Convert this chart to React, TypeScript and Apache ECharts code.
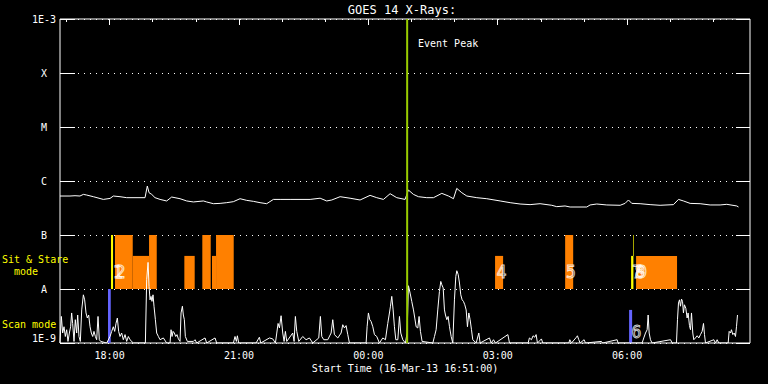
import React, { useEffect, useRef } from "react";
import * as echarts from "echarts";

// Time values are minutes after 16:00 on 16-Mar-13
const START_MIN = 51; // 16:51
const END_MIN = 1011; // 08:51 next day
const BASE_HOUR = 16;

const labelTicks = [120, 300, 480, 660, 840]; // 18:00 21:00 00:00 03:00 06:00
const hourTicks = [60, 180, 240, 360, 420, 540, 600, 720, 780, 900, 960];

const yTickExps = [-9, -8, -7, -6, -5, -4, -3];
const yTickNames = ["1E-9", "A", "B", "C", "M", "X", "1E-3"];

// GOES long channel (upper curve)
const longT = [
  51, 64.9, 71.9, 78.8, 83.5, 88.1, 97.4, 111.3, 120.6, 125.2, 134.5, 143.8, 169.3, 172.5, 174.9, 178.6,
  183.2, 190.2, 199.4, 206.4, 218, 227.3, 236.6, 250.5, 255.1, 264.4, 273.7, 283, 292.2, 301.5, 310.8,
  320.1, 329.3, 338.6, 347.9, 357.2, 371.1, 399, 412.9, 422.1, 429.1, 440.7, 454.6, 468.5, 482.4, 491.7,
  501, 510.3, 519.5, 531.1, 535.8, 542.7, 549.7, 561.3, 570.6, 582.2, 591.5, 598.4, 603, 610, 617, 630.9,
  644.8, 663.4, 677.3, 691.1, 705, 718.9, 735.2, 742.1, 753.7, 760.7, 783.9, 788.5, 797.8, 811.7, 830.3,
  837.2, 841.9, 846.5, 858.1, 872, 885.9, 904.5, 911.5, 918.4, 927.7, 941.6, 955.5, 969.4, 978.7, 992.6, 995,
];
const longF = [
  5.27e-7, 5.27e-7, 5.34e-7, 5.27e-7, 5.65e-7, 5.5e-7, 5.12e-7, 4.56e-7, 4.76e-7, 5.27e-7, 5.12e-7, 4.91e-7,
  4.91e-7, 8.07e-7, 6.07e-7, 5.65e-7, 4.91e-7, 4.56e-7, 4.27e-7, 5.05e-7, 4.7e-7, 4.27e-7, 4.09e-7, 4.27e-7,
  4.09e-7, 3.8e-7, 3.85e-7, 3.97e-7, 4.14e-7, 4.7e-7, 4.38e-7, 4.2e-7, 3.97e-7, 3.8e-7, 4.56e-7, 4.56e-7,
  4.56e-7, 4.56e-7, 4.8e-7, 4.27e-7, 4.45e-7, 5.12e-7, 4.8e-7, 4.45e-7, 5.42e-7, 4.91e-7, 4.56e-7, 5.82e-7,
  4.91e-7, 4.56e-7, 6.8e-7, 5.65e-7, 5.12e-7, 4.91e-7, 4.91e-7, 5.9e-7, 5.27e-7, 4.7e-7, 7.3e-7, 6.07e-7,
  5.27e-7, 4.91e-7, 4.7e-7, 4.27e-7, 3.97e-7, 3.75e-7, 3.65e-7, 3.8e-7, 3.55e-7, 3.35e-7, 3.45e-7, 3.3e-7,
  3.3e-7, 3.6e-7, 3.75e-7, 3.6e-7, 3.55e-7, 3.85e-7, 4.45e-7, 3.85e-7, 3.8e-7, 3.65e-7, 3.55e-7, 3.65e-7,
  4.56e-7, 4.27e-7, 3.85e-7, 3.8e-7, 3.6e-7, 3.6e-7, 3.7e-7, 3.45e-7, 3.3e-7,
];

// GOES short channel (lower, spiky curve)
const shortT = [
  51, 52.9, 54.7, 56.6, 58.4, 60.3, 62.1, 64, 65.8, 67.2, 68.6, 70.5, 72.3, 74.2, 75.6, 77.4, 79.3, 81.2,
  83.5, 85.3, 87.2, 89, 90.9, 92.8, 94.6, 96.5, 98.3, 100.2, 102, 103.9, 105.7, 107.6, 116, 120.6, 122.9,
  125.2, 127.1, 128.9, 130.8, 132.6, 134.5, 136.8, 139.1, 141.5, 143.8, 146.1, 148.4, 153, 169.8, 171.6,
  173.5, 174.9, 176.3, 177.6, 179, 180.4, 181.8, 183.7, 185.5, 187.9, 190.2, 194.8, 199.4, 204.1, 205.5,
  206.9, 208.3, 210.1, 212, 213.8, 215.7, 218, 219.4, 221.3, 222.6, 224, 225.4, 228.2, 236.6, 238.9, 241.2,
  252.8, 255.1, 266.7, 269, 292.2, 294.5, 296.4, 297.8, 299.6, 323.8, 328.4, 330.3, 342.4, 347, 350.7,
  352.6, 354.4, 356.3, 358.6, 360.9, 362.8, 364.6, 366.5, 374.8, 376.7, 378.5, 380.4, 383.2, 388.7, 393.4,
  398, 402.7, 411, 413.3, 415.2, 418, 423.5, 428.2, 430.5, 432.8, 437.5, 442.1, 444.4, 446.7, 449, 451.4,
  453.7, 476.9, 478.3, 480.1, 482, 483.8, 486.2, 488.5, 491.7, 495.4, 500.1, 503.8, 507, 508.9, 510.8,
  512.6, 514.5, 516.3, 518.2, 521, 523.3, 525.1, 527.9, 531.6, 533.9, 535.8, 538.1, 540.4, 542.8, 544.6,
  546.5, 548.8, 550.6, 552.5, 554.8, 569.7, 572, 574.3, 576.6, 578.9, 580.8, 582.2, 584.1, 585.9, 587.3,
  589.2, 591, 592.9, 595.2, 597.5, 599.8, 601.7, 603.1, 605, 606.8, 608.6, 610.5, 612.3, 614.2, 616.1,
  617.9, 619.8, 621.6, 623.5, 625.3, 630, 633.7, 635.5, 648.5, 650.9, 654.1, 656.9, 674.1, 676.4, 702.3,
  704.1, 706.9, 709.2, 711.5, 713.4, 715.3, 720.8, 722.7, 758.9, 760.3, 762.6, 769.5, 770.9, 772.8, 774.6,
  780.2, 782.1, 804.3, 806, 826.1, 827.5, 860.9, 863.2, 865.6, 867.9, 869.3, 870.7, 872.5, 874.8, 900.4,
  902.7, 908.7, 910.1, 911.5, 912.9, 914.3, 915.7, 917.1, 918.4, 919.8, 921.7, 923.5, 924.9, 926.8, 928.2,
  929.6, 931.4, 932.8, 935.1, 937.5, 939.8, 942.1, 944.4, 946.3, 947.7, 949.1, 960.7, 963, 965.3, 967.6,
  980.6, 982, 983.9, 985.2, 987.1, 989, 990.8, 992.2, 993.6, 994.5,
];
const shortF = [
  1e-9, 3.1e-9, 1.53e-9, 2.0e-9, 1.32e-9, 1.76e-9, 1.07e-9, 1.53e-9, 2.0e-9, 3.6e-9, 2.3e-9, 1.07e-9, 2.7e-9,
  1.53e-9, 3.3e-9, 1.32e-9, 1.07e-9, 4.1e-9, 7.8e-9, 6.3e-9, 3.6e-9, 2.9e-9, 3.3e-9, 2.0e-9, 1.53e-9,
  1.32e-9, 1.64e-9, 1.32e-9, 1.15e-9, 3.1e-9, 1.15e-9, 1.07e-9, 1e-9, 1.32e-9, 1.64e-9, 2.0e-9, 1.64e-9,
  2.3e-9, 2.9e-9, 1.64e-9, 1.32e-9, 1.53e-9, 1.15e-9, 1.43e-9, 1.07e-9, 1.32e-9, 1.15e-9, 1e-9, 1e-9,
  1.49e-8, 3.11e-8, 1.12e-8, 6.3e-9, 7.3e-9, 5.9e-9, 7.8e-9, 4.8e-9, 2.7e-9, 1.53e-9, 1.32e-9, 1.15e-9,
  1.24e-9, 1e-9, 1e-9, 1.76e-9, 1.32e-9, 1.64e-9, 1.53e-9, 1.32e-9, 1.43e-9, 1.19e-9, 1.07e-9, 3.6e-9,
  4.8e-9, 3.3e-9, 2.7e-9, 1.32e-9, 1.07e-9, 1.07e-9, 1.15e-9, 1e-9, 1.24e-9, 1e-9, 1.24e-9, 1e-9, 1e-9,
  1.32e-9, 1.07e-9, 1.36e-9, 1e-9, 1e-9, 1.28e-9, 1e-9, 1.24e-9, 1.19e-9, 1e-9, 1.53e-9, 2.3e-9, 1.9e-9,
  3.2e-9, 1.53e-9, 1.07e-9, 1.64e-9, 1.07e-9, 1.53e-9, 1.07e-9, 3.1e-9, 1.64e-9, 1.07e-9, 1.32e-9, 1.15e-9,
  1.24e-9, 1e-9, 1.24e-9, 3.1e-9, 1.32e-9, 1.15e-9, 1.15e-9, 1.53e-9, 2.7e-9, 1.43e-9, 1.24e-9, 1.53e-9,
  2.18e-9, 1.9e-9, 2.1e-9, 1.43e-9, 1e-9, 1e-9, 2.0e-9, 3.6e-9, 2.7e-9, 2.51e-9, 2.0e-9, 1.43e-9, 1.32e-9,
  1e-9, 1.24e-9, 1.15e-9, 2.3e-9, 3.3e-9, 4.8e-9, 7.3e-9, 4.1e-9, 2.0e-9, 1.15e-9, 1.15e-9, 3.1e-9,
  1.53e-9, 1.15e-9, 1e-9, 1.53e-9, 1.15e-8, 8.4e-9, 5.9e-9, 4.1e-9, 2.9e-9, 2.0e-9, 1.9e-9, 3.1e-9,
  1.64e-9, 1.07e-9, 1e-9, 1.32e-9, 1.76e-9, 4.1e-9, 9.0e-9, 1.38e-8, 1.2e-8, 1.05e-8, 4.1e-9, 3.3e-9,
  2.7e-9, 3.1e-9, 2.0e-9, 1.32e-9, 1e-9, 6.3e-9, 1.71e-8, 2.18e-8, 1.85e-8, 1.29e-8, 7.8e-9, 6.3e-9,
  5.9e-9, 5.1e-9, 4.1e-9, 2.0e-9, 3.6e-9, 2.7e-9, 1.76e-9, 1.15e-9, 1e-9, 1.53e-9, 1e-9, 1.24e-9, 1e-9,
  1.15e-9, 1e-9, 1.43e-9, 1e-9, 1e-9, 1.24e-9, 1.15e-9, 1.36e-9, 1.28e-9, 1.43e-9, 1e-9, 1.19e-9, 1e-9,
  1e-9, 1.15e-9, 1e-9, 1.28e-9, 1.36e-9, 1.15e-9, 1e-9, 1.15e-9, 1e-9, 1.07e-9, 1e-9, 1.15e-9, 1e-9, 1e-9,
  1.24e-9, 1.53e-9, 1.76e-9, 3.3e-9, 1.53e-9, 1.15e-9, 1e-9, 1.15e-9, 1e-9, 1e-9, 2.7e-9, 5.5e-9, 6.3e-9,
  4.8e-9, 6.5e-9, 5.9e-9, 3.6e-9, 5.1e-9, 4.4e-9, 2.9e-9, 3.6e-9, 2.1e-9, 1.76e-9, 3.6e-9, 1.53e-9,
  1.15e-9, 1.24e-9, 1.36e-9, 1.24e-9, 1.43e-9, 1.64e-9, 2.3e-9, 1.43e-9, 1e-9, 1.15e-9, 1e-9, 1.15e-9,
  1e-9, 1e-9, 1.64e-9, 1.53e-9, 1.76e-9, 1.43e-9, 1.53e-9, 1.32e-9, 2.0e-9, 3.3e-9, 3.3e-9,
];

// Sit & Stare observations (orange)
const sitStart = [127.5, 152.2, 174.9, 224.0, 249.0, 262.5, 268.1, 656.3, 753.8, 852.5];
const sitEnd = [152.2, 174.9, 185.6, 238.4, 260.7, 268.1, 292.7, 667.5, 765.0, 909.5];
const sitBottom = [1e-8, 1e-8, 1e-8, 1e-8, 1e-8, 1e-8, 1e-8, 1e-8, 1e-8, 1e-8];
const sitTop = [1e-7, 4.1e-8, 1e-7, 4.1e-8, 1e-7, 4.1e-8, 1e-7, 4.1e-8, 1e-7, 4.1e-8];

// yellow markers
const markStart = [122.0, 845.6, 848.4];
const markEnd = [124.8, 848.8, 849.3];
const markBottom = [1e-8, 1e-8, 4.1e-8];
const markTop = [1e-7, 4.1e-8, 1e-7];

// Scan mode observations (blue)
const scanStart = [117.8, 842.8];
const scanEnd = [121.6, 847.0];
const scanBottom = [1e-9, 1e-9];
const scanTop = [1e-8, 4.1e-9];

// Observation numbers
const obsLabelText = ["1", "2", "4", "5", "6", "7", "8", "9"];
const obsLabelT = [125.2, 128.6, 658.7, 755.1, 846.0, 847.0, 850.5, 854.0];
const obsLabelF = [2.1e-8, 2.1e-8, 2.1e-8, 2.1e-8, 1.62e-9, 2.1e-8, 2.1e-8, 2.1e-8];

const eventPeakT = 534; // 00:54

const MONO = '"DejaVu Sans Mono", monospace';

function fmtTime(v: number): string {
  const total = Math.round(v) + BASE_HOUR * 60;
  const h = Math.floor(total / 60) % 24;
  const m = total % 60;
  return String(h).padStart(2, "0") + ":" + String(m).padStart(2, "0");
}

function rectRows(s: number[], e: number[], b: number[], t: number[]) {
  return s.map((v, i) => [v, e[i], b[i], t[i]]);
}

function rectSeries(rows: number[][], color: string, z: number) {
  return {
    type: "custom",
    xAxisIndex: 0,
    yAxisIndex: 0,
    z,
    silent: true,
    encode: { x: [0, 1], y: [2, 3] },
    data: rows,
    renderItem: (params: any, api: any) => {
      const p0 = api.coord([api.value(0), api.value(2)]);
      const p1 = api.coord([api.value(1), api.value(3)]);
      return {
        type: "rect",
        shape: { x: p0[0], y: p1[1], width: p1[0] - p0[0], height: p0[1] - p1[1] },
        style: { fill: color },
      };
    },
  };
}

export default function App() {
  const ref = useRef<HTMLDivElement>(null);
  useEffect(() => {
    if (!ref.current) return;
    const chart = echarts.init(ref.current, undefined, { renderer: "svg" });
    const yLabelFmt = (v: number) => {
      const e = Math.round(Math.log10(v));
      const i = yTickExps.indexOf(e);
      return i >= 0 ? yTickNames[i] : "";
    };
    const option: any = {
      animation: false,
      backgroundColor: "#000",
      grid: {
        left: 60,
        top: 19,
        width: 690,
        height: 324,
        show: true,
        borderColor: "#fff",
        borderWidth: 1,
        backgroundColor: "transparent",
      },
      xAxis: [
        {
          type: "value",
          position: "bottom",
          min: START_MIN,
          max: END_MIN,
          axisLine: { show: false },
          axisTick: { show: false },
          splitLine: { show: false },
          axisLabel: {
            customValues: labelTicks,
            formatter: fmtTime,
            color: "#fff",
            fontFamily: MONO,
            fontSize: 10,
            margin: 7,
          },
        },
        {
          type: "value",
          position: "top",
          min: START_MIN,
          max: END_MIN,
          axisLine: { show: false },
          axisLabel: { show: false },
          splitLine: { show: false },
          axisTick: {
            show: true,
            inside: true,
            length: 3,
            customValues: hourTicks,
            lineStyle: { color: "#fff", width: 1 },
          },
        },
        {
          type: "value",
          position: "top",
          min: START_MIN,
          max: END_MIN,
          axisLine: { show: false },
          axisLabel: { show: false },
          splitLine: { show: false },
          axisTick: {
            show: true,
            inside: true,
            length: 6,
            customValues: labelTicks,
            lineStyle: { color: "#fff", width: 1 },
          },
        },
      ],
      yAxis: [
        {
          type: "log",
          logBase: 10,
          min: 1e-9,
          max: 1e-3,
          position: "left",
          axisLine: { show: false },
          axisTick: { show: true, inside: true, length: 15, lineStyle: { color: "#fff", width: 1 } },
          splitLine: { show: true, lineStyle: { color: "#fff", width: 1, type: [1, 5] } },
          axisLabel: {
            formatter: yLabelFmt,
            color: "#fff",
            fontFamily: MONO,
            fontSize: 10,
            align: "center",
            margin: 16,
            verticalAlignMaxLabel: "top",
            verticalAlignMinLabel: "bottom",
          },
        },
        {
          type: "log",
          logBase: 10,
          min: 1e-9,
          max: 1e-3,
          position: "right",
          axisLine: { show: false },
          axisTick: { show: true, inside: true, length: 14, lineStyle: { color: "#fff", width: 1 } },
          splitLine: { show: false },
          axisLabel: { show: false },
        },
      ],
      series: [
        rectSeries(rectRows(sitStart, sitEnd, sitBottom, sitTop), "#ff8000", 1),
        rectSeries(rectRows(scanStart, scanEnd, scanBottom, scanTop), "#6464ff", 1),
        rectSeries(rectRows(markStart, markEnd, markBottom, markTop), "#ffff00", 2),
        {
          type: "line",
          xAxisIndex: 0,
          yAxisIndex: 0,
          z: 3,
          silent: true,
          showSymbol: false,
          symbol: "none",
          lineStyle: { color: "#fff", width: 1 },
          data: longT.map((t, i) => [t, longF[i]]),
        },
        {
          type: "line",
          xAxisIndex: 0,
          yAxisIndex: 0,
          z: 3,
          silent: true,
          showSymbol: false,
          symbol: "none",
          lineStyle: { color: "#fff", width: 1 },
          data: shortT.map((t, i) => [t, shortF[i]]),
        },
        {
          type: "line",
          xAxisIndex: 0,
          yAxisIndex: 0,
          z: 4,
          silent: true,
          showSymbol: false,
          symbol: "none",
          lineStyle: { color: "#99cc00", width: 2 },
          data: [
            [eventPeakT, 1e-9],
            [eventPeakT, 1e-3],
          ],
        },
        {
          type: "scatter",
          xAxisIndex: 0,
          yAxisIndex: 0,
          z: 5,
          silent: true,
          symbolSize: 0,
          data: obsLabelT.map((t, i) => [t, obsLabelF[i]]),
          label: {
            show: true,
            position: "right",
            distance: 0,
            formatter: (p: any) => obsLabelText[p.dataIndex],
            color: "transparent",
            textBorderColor: "#fff",
            textBorderWidth: 1,
            fontFamily: '"Liberation Sans Narrow", "DejaVu Sans Condensed", sans-serif',
            fontSize: 17,
          },
        },
      ],
      graphic: [
        {
          type: "text",
          x: 402,
          y: 10,
          style: { text: "GOES 14 X-Rays:", fill: "#fff", font: "12px " + MONO, align: "center", verticalAlign: "middle" },
        },
        {
          type: "text",
          x: 418,
          y: 43,
          style: { text: "Event Peak", fill: "#fff", font: "10px " + MONO, align: "left", verticalAlign: "middle" },
        },
        {
          type: "text",
          x: 405,
          y: 368,
          style: {
            text: "Start Time (16-Mar-13 16:51:00)",
            fill: "#fff",
            font: "10px " + MONO,
            align: "center",
            verticalAlign: "middle",
          },
        },
        {
          type: "text",
          x: 2,
          y: 259,
          style: { text: "Sit & Stare", fill: "#ffff00", font: "10px " + MONO, align: "left", verticalAlign: "middle" },
        },
        {
          type: "text",
          x: 2,
          y: 271,
          style: { text: "  mode", fill: "#ffff00", font: "10px " + MONO, align: "left", verticalAlign: "middle" },
        },
        {
          type: "text",
          x: 2,
          y: 324,
          style: { text: "Scan mode", fill: "#ffff00", font: "10px " + MONO, align: "left", verticalAlign: "middle" },
        },
      ],
    };
    chart.setOption(option);
    return () => chart.dispose();
  }, []);
  return (
    <div
      ref={ref}
      style={{ position: "fixed", left: 0, top: 0, width: 768, height: 384, background: "#000" }}
    />
  );
}
